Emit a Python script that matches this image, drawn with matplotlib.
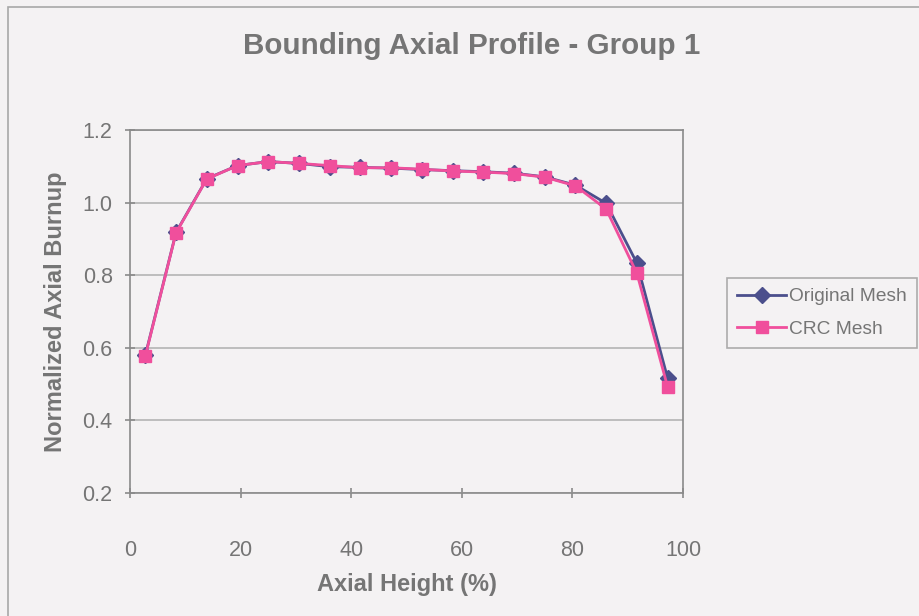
"""
Bounding axial profile, group 1: original mesh vs CRC mesh.
"""
import matplotlib.pyplot as plt
from matplotlib.patches import Rectangle

# axial node centres (% of height) and normalized burnup
AXIAL_HEIGHT = [2.78, 8.33, 13.89, 19.44, 25.0, 30.56, 36.11, 41.67, 47.22,
                52.78, 58.33, 63.89, 69.44, 75.0, 80.56, 86.11, 91.67, 97.22]
ORIGINAL_MESH = [0.580, 0.918, 1.066, 1.102, 1.113, 1.108, 1.099, 1.097, 1.095,
                 1.091, 1.088, 1.085, 1.081, 1.071, 1.048, 0.998, 0.833, 0.516]
CRC_MESH = [0.578, 0.917, 1.065, 1.102, 1.113, 1.108, 1.102, 1.096, 1.096,
            1.092, 1.087, 1.084, 1.080, 1.070, 1.046, 0.982, 0.805, 0.492]

X_TICKS = [0, 20, 40, 60, 80, 100]
Y_TICKS = [0.2, 0.4, 0.6, 0.8, 1.0, 1.2]

BG = "#f4f2f3"
TXT = "#757575"
GRID = "#b4b4b4"
NAVY = "#4b4f8c"
PINK = "#f04f9c"

plt.rcParams["font.family"] = ["Liberation Sans", "DejaVu Sans"]

fig = plt.figure(figsize=(9.19, 6.16), dpi=100, facecolor=BG)
# outer chart frame (runs off the right and bottom of the scan)
fig.patches.append(Rectangle((8 / 919, -0.1), 1.2, 1 - 7 / 616 + 0.1,
                             transform=fig.transFigure, fill=False,
                             edgecolor="#a8a8a8", lw=1.2))

ax = fig.add_axes([130 / 919, 123 / 616, 553 / 919, 363 / 616])
ax.set_facecolor(BG)

ax.plot(AXIAL_HEIGHT, ORIGINAL_MESH, color=NAVY, lw=2, marker="D",
        markersize=8, markerfacecolor=NAVY, markeredgecolor=NAVY,
        label="Original Mesh", zorder=3)
ax.plot(AXIAL_HEIGHT, CRC_MESH, color=PINK, lw=2, marker="s",
        markersize=9, markerfacecolor=PINK, markeredgecolor=PINK,
        label="CRC Mesh", zorder=4)

ax.set_xlim(0, 100)
ax.set_ylim(0.2, 1.2)
ax.set_xticks(X_TICKS)
ax.set_yticks(Y_TICKS)
ax.set_yticklabels([f"{v:.1f}" for v in Y_TICKS])
ax.grid(axis="y", color=GRID, lw=1.2)
ax.set_axisbelow(True)
for side in ["left", "right", "top", "bottom"]:
    ax.spines[side].set_color("#8a8a8a")
    ax.spines[side].set_linewidth(1.2)
ax.tick_params(colors="#8a8a8a", labelcolor=TXT, labelsize=15.5,
               direction="inout", length=7, width=1.2)
ax.tick_params(axis="y", pad=9)
ax.tick_params(axis="x", pad=30)

ax.set_xlabel("Axial Height (%)", fontsize=17, fontweight="bold",
              color=TXT, labelpad=9)
ax.set_ylabel("Normalized Axial Burnup", fontsize=17, fontweight="bold",
              color=TXT, labelpad=11)

fig.text(472 / 919, 1 - 46 / 616, "Bounding Axial Profile - Group 1",
         ha="center", va="center", fontsize=21.3, fontweight="bold", color=TXT)

leg = ax.legend(loc="center left", bbox_to_anchor=(727 / 919, 1 - 313 / 616),
                bbox_transform=fig.transFigure, frameon=True, fancybox=False,
                fontsize=13.8, handlelength=2.6, handletextpad=0.15,
                labelspacing=0.8, borderpad=0.5, borderaxespad=0)
leg.get_frame().set_edgecolor("#9a9a9a")
leg.get_frame().set_facecolor(BG)
leg.get_frame().set_linewidth(1.2)
for t in leg.get_texts():
    t.set_color(TXT)

fig.savefig("out.png", dpi=100, facecolor=BG)
